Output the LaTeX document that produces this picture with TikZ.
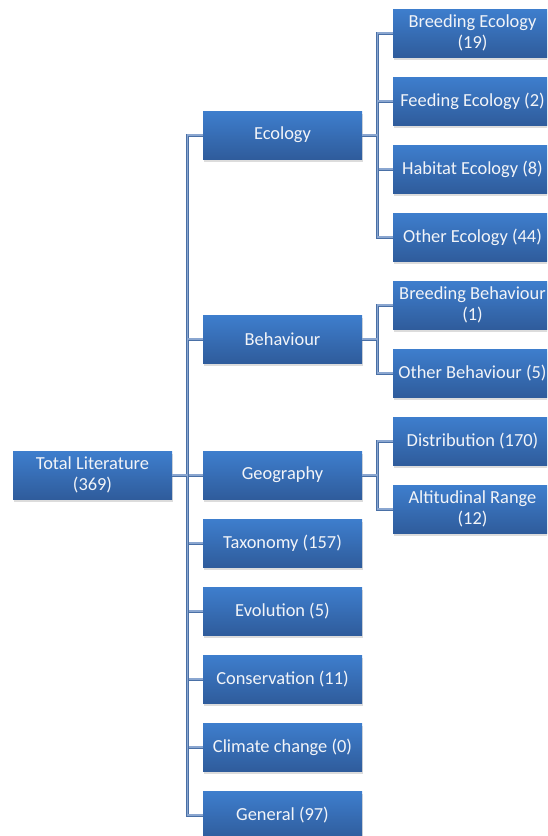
\documentclass[tikz,border=0pt]{standalone}
\usepackage{fontspec}
\setmainfont{Carlito}
\usetikzlibrary{shadows}
\definecolor{boxtop}{HTML}{3E7ECD}
\definecolor{boxbot}{HTML}{2F5C9C}
\definecolor{lineout}{HTML}{4A70A6}
\definecolor{linein}{HTML}{8AA6D0}
\definecolor{txt}{HTML}{F2F4F8}
\tikzset{
  box/.style={rectangle, minimum width=159pt, minimum height=48pt, inner sep=0pt,
    top color=boxtop, bottom color=boxbot, draw=none, text=txt, align=center,
    font=\fontsize{18.4}{20.5}\selectfont,
    drop shadow={opacity=0.28, shadow xshift=1pt, shadow yshift=-2.5pt}},
  link/.style={draw=lineout, line width=0.9pt, double=linein, double distance=1.2pt}
}
\begin{document}
\begin{tikzpicture}[x=1pt,y=-1pt]
\useasboundingbox (0,0) rectangle (547,836);
\clip (0,0) rectangle (547,836);
% root
\node[box] (tot) at (92.5,475) {Total Literature\\(369)};
% middle column
\node[box] (eco) at (282.5,135) {Ecology};
\node[box] (beh) at (282.5,339) {Behaviour};
\node[box] (geo) at (282.5,475) {Geography};
\node[box] (tax) at (282.5,543) {Taxonomy (157)};
\node[box] (evo) at (282.5,611) {Evolution (5)};
\node[box] (con) at (282.5,679) {Conservation (11)};
\node[box] (cli) at (282.5,747) {Climate change (0)};
\node[box] (gen) at (282.5,815) {General (97)};
% right column
\node[box] (bre) at (472.5,33) {Breeding Ecology\\(19)};
\node[box] (fee) at (472.5,101) {Feeding Ecology (2)};
\node[box] (hab) at (472.5,169) {Habitat Ecology (8)};
\node[box] (oec) at (472.5,237) {Other Ecology (44)};
\node[box] (bbe) at (472.5,305) {Breeding Behaviour\\(1)};
\node[box] (obe) at (472.5,373) {Other Behaviour (5)};
\node[box] (dis) at (472.5,441) {Distribution (170)};
\node[box] (alt) at (472.5,509) {Altitudinal Range\\(12)};
% connectors
\foreach \c in {eco,beh,geo,tax,evo,con,cli,gen}
  \draw[link] (tot.east) -- ++(15,0) |- (\c.west);
\foreach \c in {bre,fee,hab,oec}
  \draw[link] (eco.east) -- ++(15,0) |- (\c.west);
\foreach \c in {bbe,obe}
  \draw[link] (beh.east) -- ++(15,0) |- (\c.west);
\foreach \c in {dis,alt}
  \draw[link] (geo.east) -- ++(15,0) |- (\c.west);
\end{tikzpicture}
\end{document}
